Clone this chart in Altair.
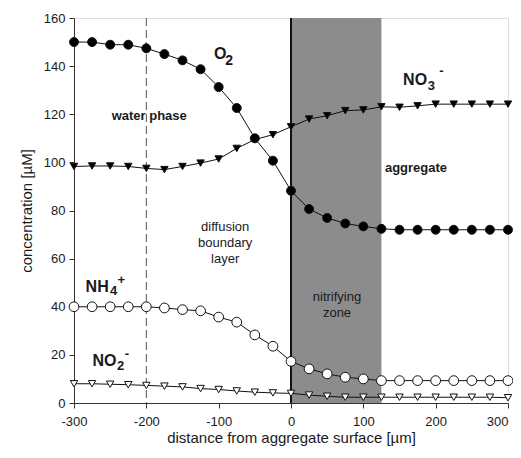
import altair as alt
import pandas as pd

# distance from aggregate surface [µm]
distance = [-300, -275, -250, -225, -200, -175, -150, -125, -100, -75, -50, -25,
            0, 25, 50, 75, 100, 125, 150, 175, 200, 225, 250, 275, 300]
o2 = [150, 150, 148.9, 148.9, 147.4, 145, 142.4, 138.7, 131.3, 122.6, 110, 100.7,
      88.2, 80.6, 76.9, 74.6, 73.4, 72.4, 72, 72, 72, 72, 72, 72, 72]
no3 = [98.3, 98.5, 98.5, 98.3, 97.5, 97, 98.3, 99.7, 101.4, 105.8, 109.5, 111.5,
       114.8, 118, 119.4, 121.5, 121.8, 123.1, 122.9, 123.5, 124.2, 124.2, 124.2, 124.2, 124.2]
nh4 = [40, 40, 40, 40, 40, 39.5, 38.8, 38.3, 35.7, 33.6, 28.3, 23.6,
       17.3, 14.2, 12.1, 10.7, 10, 9.3, 9.3, 9.3, 9.3, 9.3, 9.3, 9.3, 9.3]
no2 = [8, 8, 7.8, 7.6, 7.3, 7, 6.7, 6, 5.6, 5, 4.5, 4.2,
       4, 3.3, 2.8, 2.4, 2.4, 2.4, 2.4, 2.4, 2.4, 2.4, 2.4, 2.4, 2.2]

x_ticks = [-300, -200, -100, 0, 100, 200, 300]
y_ticks = [0, 20, 40, 60, 80, 100, 120, 140, 160]

zone_start, zone_end = 0, 125
dashed_at = -200

# annotations: text, x, y, size, align
bold_labels = [
    ("O", -106.5, 145.0, 16, "left"),
    ("2", -91.0, 142.1, 14, "left"),
    ("NO", 155.0, 134.2, 16, "left"),
    ("3", 189.0, 131.7, 13, "left"),
    ("-", 205.0, 137.8, 13, "left"),
    ("NH", -284.0, 48.2, 16, "left"),
    ("4", -250.2, 46.5, 13, "left"),
    ("+", -240.0, 51.0, 13, "left"),
    ("NO", -274.5, 17.5, 16, "left"),
    ("2", -240.6, 15.4, 13, "left"),
    ("-", -230.0, 20.2, 13, "left"),
    ("water phase", -196.0, 119.3, 13, "center"),
    ("aggregate", 172.8, 97.7, 13, "center"),
]
normal_labels = [
    ("diffusion", -91.0, 73.1),
    ("boundary", -91.0, 66.3),
    ("layer", -91.0, 59.7),
    ("nitrifying", 63.6, 44.0),
    ("zone", 63.6, 37.4),
]

FONT = "Liberation Sans"
TXT = "#1a1a1a"

df = pd.DataFrame({"x": distance, "O2": o2, "NO3": no3, "NH4": nh4, "NO2": no2})

xs = alt.Scale(domain=[-300, 300], nice=False)
ys = alt.Scale(domain=[0, 160], nice=False)

x_axis = alt.Axis(values=x_ticks, title="distance from aggregate surface [µm]",
                  grid=False, tickSize=5, labelPadding=7, titlePadding=2,
                  labelFontSize=13, titleFontSize=15, titleFontWeight="normal",
                  labelFont=FONT, titleFont=FONT, labelColor=TXT, titleColor=TXT,
                  domainColor="#333", tickColor="#333",
                  labelExpr="'' + datum.value",
                  labelAlign={"expr": "datum.value == 300 ? 'right' : 'center'"})
y_axis = alt.Axis(values=y_ticks, title="concentration [µM]", grid=False,
                  tickSize=5, labelPadding=4, titlePadding=9,
                  labelFontSize=13, titleFontSize=15, titleFontWeight="normal",
                  labelFont=FONT, titleFont=FONT, labelColor=TXT, titleColor=TXT,
                  domainColor="#333", tickColor="#333")

zone = alt.Chart(pd.DataFrame({"a": [zone_start], "b": [zone_end], "y0": [0], "y1": [160]})).mark_rect(
    color="#8c8c8c").encode(
    x=alt.X("a:Q", scale=xs, axis=x_axis), x2="b:Q",
    y=alt.Y("y0:Q", scale=ys, axis=y_axis), y2="y1:Q")

surface = alt.Chart(pd.DataFrame({"x": [zone_start]})).mark_rule(
    color="#111", strokeWidth=2).encode(x=alt.X("x:Q", scale=xs))
dashed = alt.Chart(pd.DataFrame({"x": [dashed_at]})).mark_rule(
    color="#555", strokeWidth=1, strokeDash=[8, 4]).encode(x=alt.X("x:Q", scale=xs))

layers = [zone, surface, dashed]

styles = [
    ("NO2", "triangle-down", "white", 55),
    ("NH4", "circle", "white", 95),
    ("NO3", "triangle-down", "black", 55),
    ("O2", "circle", "black", 80),
]
base = alt.Chart(df)
for col, shape, fill, size in styles:
    layers.append(base.mark_line(color="#111", strokeWidth=1).encode(
        x=alt.X("x:Q", scale=xs), y=alt.Y(f"{col}:Q", scale=ys)))
    layers.append(base.mark_point(shape=shape, filled=True, fill=fill, stroke="#111",
                                  strokeWidth=1, size=size, opacity=1).encode(
        x=alt.X("x:Q", scale=xs), y=alt.Y(f"{col}:Q", scale=ys)))

for (t, x, y, s, al) in bold_labels:
    layers.append(alt.Chart(pd.DataFrame({"t": [t], "x": [x], "y": [y]})).mark_text(
        font=FONT, fontWeight="bold", fontSize=s, align=al, baseline="middle",
        color=TXT).encode(x=alt.X("x:Q", scale=xs), y=alt.Y("y:Q", scale=ys), text="t:N"))

nl = pd.DataFrame(normal_labels, columns=["t", "x", "y"])
layers.append(alt.Chart(nl).mark_text(font=FONT, fontSize=13, align="center",
                                      baseline="middle", color=TXT).encode(
    x=alt.X("x:Q", scale=xs), y=alt.Y("y:Q", scale=ys), text="t:N"))

chart = alt.layer(*layers).properties(
    width=434, height=385,
    autosize=alt.AutoSizeParams(type="none"),
    padding={"left": 66, "top": 10, "right": 5, "bottom": 47},
).configure_view(stroke="#333", strokeWidth=1).configure(background="white")

chart.save("out.html", embed_options={"renderer": "svg", "actions": False})
